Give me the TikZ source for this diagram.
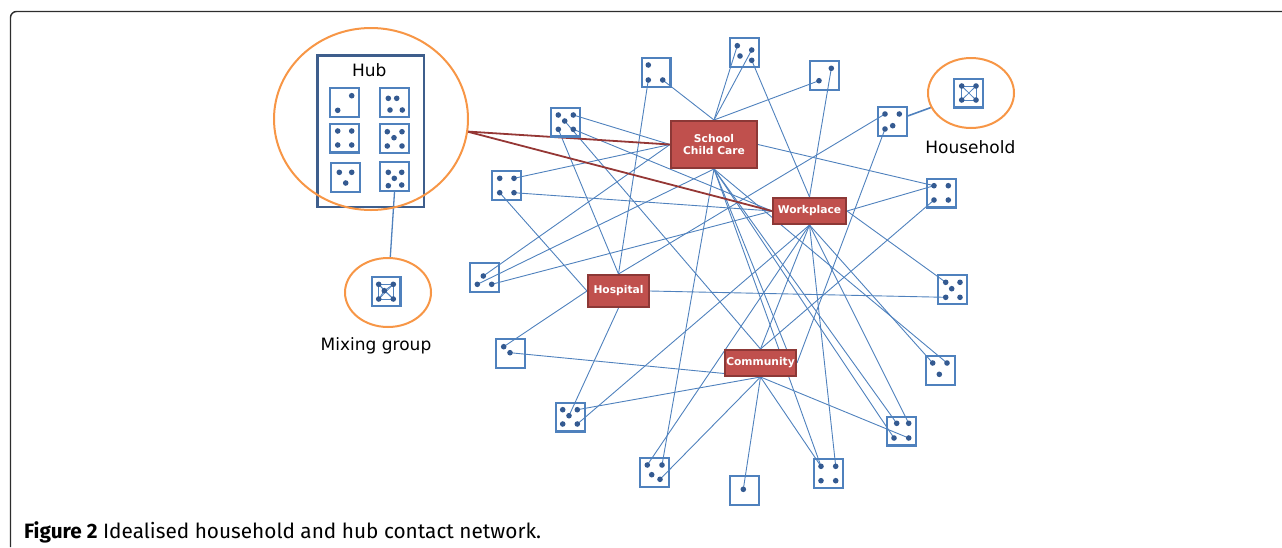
\documentclass[tikz,border=0pt]{standalone}
\usepackage{fontspec}
\usepackage{graphicx}
\setmainfont{DejaVu Sans}
\newfontfamily\capfont{Fira Sans}
\usetikzlibrary{shapes.geometric,calc}
\definecolor{hhblue}{RGB}{79,129,189}
\definecolor{dotblue}{RGB}{52,90,145}
\definecolor{hubframe}{RGB}{62,94,140}
\definecolor{redfill}{RGB}{192,80,77}
\definecolor{redline}{RGB}{140,56,54}
\definecolor{ringorange}{RGB}{247,150,70}
\definecolor{darkred}{RGB}{149,55,53}
\definecolor{framegray}{RGB}{45,45,45}
\pgfdeclarelayer{bg}
\pgfsetlayers{bg,main}
\begin{document}
\begin{tikzpicture}[x=1pt,y=-1pt,
 hh/.style={draw=hhblue,line width=2.4pt,minimum size=28.6pt,inner sep=0pt},
 dot/.style={circle,fill=dotblue,inner sep=0pt,minimum size=5.6pt},
 hubbox/.style={fill=redfill,draw=redline,line width=1.6pt,text=white,font=\bfseries\fontsize{10.7}{12.7}\selectfont,inner sep=0pt,align=center},
 link/.style={hhblue,line width=0.9pt},
 innerlink/.style={hhblue,line width=0.8pt},
 ring/.style={ellipse,draw=ringorange,line width=2pt,inner sep=0pt},
 hublink/.style={darkred,line width=1.8pt},
 lbl/.style={font=\fontsize{17}{20}\selectfont,inner sep=0pt,anchor=base}]
\useasboundingbox (0,0) rectangle (1282,547);

% frame
\draw[framegray,line width=1.4pt,rounded corners=6pt] (10.5,547) -- (10.5,11.5) -- (1282,11.5);

% hub boxes (red)
\node[hubbox,minimum width=86.4pt,minimum height=47.4pt] (sch) at (714,144.5) {School\\Child Care};
\node[hubbox,minimum width=73.4pt,minimum height=26.4pt] (work) at (809.5,211) {Workplace};
\node[hubbox,minimum width=61.4pt,minimum height=32.4pt] (hosp) at (618.5,291) {Hospital};
\node[hubbox,minimum width=71.4pt,minimum height=26.4pt] (comm) at (760.5,363) {Community};
\coordinate (commtop2) at ($(comm.north)+(26,0)$);

% household boxes
\foreach \n/\x/\y in {b1/744.5/52.5, b2/656/72.5, b3/824.5/75.5, b4/565.5/122, b5/892.5/121.5,
  b6/968.5/93, b7/506.5/185.5, b8/941.5/193, b9/484.5/277.5, b10/952.5/289.5, b11/510.5/353.5,
  b12/940.5/370.5, b13/570.5/417, b14/901.5/431, b15/654.5/472.5, b16/744.5/490.5, b17/828.5/473.5,
  h1/344.5/102.5, h2/394.5/102.5, h3/344.5/138, h4/394.5/138.5, h5/345.5/177.5, h6/394.5/176.5,
  mx/386/291.5}
  \node[hh] (\n) at (\x,\y) {};

% dots
\foreach \n/\x/\y in {
  b1-1/737.3/45.7, b1-2/751.7/50, b1-3/740/56, b1-4/751.7/60.3,
  b2-1/648.3/65, b2-2/648.3/80, b2-3/662.7/80,
  b3-1/831.3/68.3, b3-2/819/80.7,
  b4-1/558.3/115, b4-2/573.3/115, b4-3/564.7/121, b4-4/558.3/129.3, b4-5/573.3/129.3,
  b5-1/885/114, b5-2/899.3/114, b5-3/892.7/125.7, b5-4/885/129,
  b6-1/961.7/86, b6-2/976/86, b6-3/961.7/100, b6-4/976/100,
  b7-1/499.7/178.3, b7-2/514/178.3, b7-3/499.7/192.7, b7-4/514/192.7,
  b8-1/934/185.7, b8-2/948.3/185.7, b8-3/934/200, b8-4/948.3/200,
  b9-1/483.3/276, b9-2/477.3/284.3, b9-3/491.7/284.3,
  b10-1/945.7/282.3, b10-2/960/282.3, b10-3/951.7/288.7, b10-4/945.7/297.3, b10-5/960/297.3,
  b11-1/503.7/346.7, b11-2/510/352.7,
  b12-1/932.7/363, b12-2/947/363, b12-3/939.3/374.3,
  b13-1/562.7/409.7, b13-2/577.3/409.7, b13-3/569/415.7, b13-4/562.7/424, b13-5/577.3/424,
  b14-1/896.7/423.3, b14-2/908.7/423.3, b14-3/894/438, b14-4/908.7/438,
  b15-1/647.3/465, b15-2/662/465, b15-3/651.7/474.7, b15-4/660/479.3,
  b16-1/743.3/489.3,
  b17-1/821/466.3, b17-2/835.7/466.3, b17-3/821/480.7, b17-4/835.7/480.7,
  h1-1/351.7/95.7, h1-2/337.7/110.3,
  h2-1/388.3/98.3, h2-2/396.7/98.3, h2-3/390/110, h2-4/402.3/110,
  h3-1/337.7/131, h3-2/351.7/131, h3-3/337.7/145, h3-4/351.7/145,
  h4-1/387.3/131.7, h4-2/402/131.7, h4-3/394/137.7, h4-4/387.3/146, h4-5/402/146,
  h5-1/339.3/172.3, h5-2/351.7/172.3, h5-3/345.7/183,
  h6-1/388.3/172.3, h6-2/401.7/172.3, h6-3/394.3/178.3, h6-4/388.3/185.7, h6-5/401.7/185,
  mx-1/378.7/284.3, mx-2/393.3/284.3, mx-3/384.3/290.7, mx-4/378.7/299, mx-5/393.3/299}
  \node[dot] (\n) at (\x,\y) {};

% hub frame and rings
\node[draw=hubframe,line width=2.5pt,minimum width=106.5pt,minimum height=151.5pt,inner sep=0pt] (hubrect) at (370.5,131) {};
\node[ring,minimum width=194pt,minimum height=182pt] (hubring) at (371,119) {};
\node[ring,minimum width=86pt,minimum height=70pt] (hhring) at (971,93) {};
\node[ring,minimum width=86pt,minimum height=69pt] (mixring) at (388,292.5) {};
\coordinate (hubtap) at (467,131.5);

% labels
\node[lbl] (hubtitle) at (369.3,76.7) {Hub};
\node[lbl] (hhlabel) at (970.3,153.3) {Household};
\node[lbl] (mixlabel) at (376,350) {Mixing group};
\node[anchor=base west,inner sep=0pt] (caption) at (24,538)
  {\resizebox{517pt}{!}{\capfont\textbf{Figure 2} Idealised household and hub contact network.}};

\begin{pgfonlayer}{bg}
\foreach \a/\b in {
  b1-1/sch.north, b1-2/sch.north, b1-4/work.north,
  b2-3/sch.north, b2-2/hosp.north,
  b3-2/sch.north, b3-1/work.north,
  b4-2/sch.west, b4-4/hosp.north, b4-3/comm.north, b4-5/work.west,
  b5-1/hosp.north, b5-4/comm.east,
  b7-2/sch.west, b7-4/work.west, b7-3/hosp.west,
  b8-1/sch.east, b8-1/work.east, b8-3/comm.north,
  b9-1/sch.west, b9-2/sch.south, b9-3/work.west,
  b10-1/work.east, b10-4/hosp.east,
  b11-1/hosp.west, b11-2/comm.south,
  b12-1/work.south, b12-2/sch.south,
  b13-3/hosp.south, b13-5/work.south, b13-2/comm.south,
  b14-1/sch.south, b14-3/sch.south, b14-2/work.south, b14-4/comm.south,
  b15-1/work.south, b15-2/sch.south, b15-4/comm.south,
  b16-1/comm.south,
  b17-1/comm.south, b17-1/sch.south, b17-2/work.south}
  \draw[link] (\a.center) -- (\b);
\draw[link] (work.south) -- (comm.north);
\draw[link] (sch.south) -- (commtop2);
\foreach \a/\b in {1/2,1/3,1/4,2/3,2/4,3/4}
  \draw[innerlink] (b6-\a.center) -- (b6-\b.center);
\foreach \a/\b in {1/2,1/3,1/4,1/5,2/3,2/4,2/5,3/4,3/5,4/5}
  \draw[innerlink] (mx-\a.center) -- (mx-\b.center);
\draw[hublink] (hubtap) -- (sch.west);
\draw[hublink] (hubtap) -- (work.west);
\draw[link,line width=1.3pt] (h6.south) -- (mixring);
\draw[link,line width=1.6pt] (b5) -- (hhring);
\end{pgfonlayer}
\end{tikzpicture}
\end{document}
